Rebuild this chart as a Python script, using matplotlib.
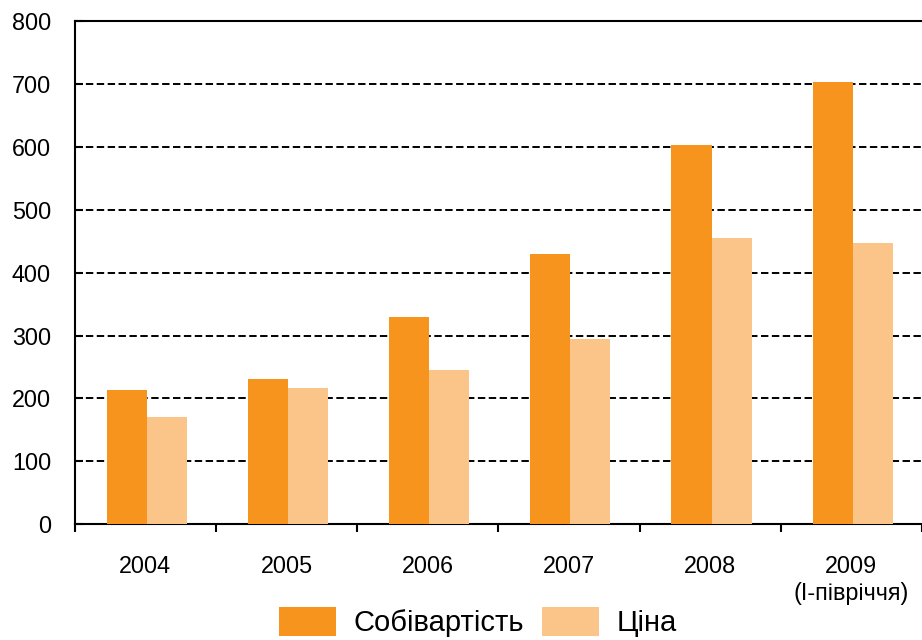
import matplotlib
matplotlib.use("Agg")
import matplotlib.pyplot as plt
import numpy as np

plt.rcParams['font.family'] = ['Liberation Sans', 'DejaVu Sans']

years = ["2004", "2005", "2006", "2007", "2008", "2009\n(І-півріччя)"]
cost = [213, 231, 330, 430, 603, 703]
price = [171, 217, 245, 295, 455, 447]
series_names = ["Собівартість", "Ціна"]
yticks = [0, 100, 200, 300, 400, 500, 600, 700, 800]

cost_color = "#F7941E"
price_color = "#FBC589"

fig = plt.figure(figsize=(9.22, 6.40), dpi=100)
ax = fig.add_axes([0.081, 0.18125, 0.919, 0.7854])

x = np.arange(len(years))
w = 0.284
shift = 0.01
b1 = ax.bar(x + shift - w / 2, cost, width=w, color=cost_color, label=series_names[0], zorder=3)
b2 = ax.bar(x + shift + w / 2, price, width=w, color=price_color, label=series_names[1], zorder=3)

ax.set_xlim(-0.5, 5.48)
ax.set_ylim(0, 800)

# horizontal dashed gridlines
ax.set_yticks(yticks)
ax.yaxis.grid(True, color="black", linewidth=1.4, dashes=(3.8, 1.8), zorder=1)
ax.set_axisbelow(True)

# category labels at centres, tick marks on category boundaries
ax.set_xticks(x)
ax.set_xticklabels(years, fontsize=16.8, linespacing=1.25, va="top")
ax.set_xticks(np.arange(-0.5, len(years), 1.0), minor=True)
ax.tick_params(axis="x", which="major", length=0, pad=22)
ax.tick_params(axis="x", which="minor", length=6, width=1.5, direction="out", color="black")
ax.tick_params(axis="y", which="major", length=6, width=1.5, direction="in",
               labelsize=16.8, pad=17)

for side in ("left", "bottom", "top"):
    ax.spines[side].set_linewidth(1.5)
    ax.spines[side].set_color("black")
ax.spines["right"].set_visible(False)

fig.legend(handles=[b1, b2], labels=series_names, loc="center",
           bbox_to_anchor=(478 / 922, 1 - 622 / 640), ncol=2, frameon=False,
           fontsize=21, handlelength=1.95, handleheight=1.16,
           handletextpad=0.62, columnspacing=0.6, borderpad=0, borderaxespad=0)

fig.savefig("out.png", dpi=100)
